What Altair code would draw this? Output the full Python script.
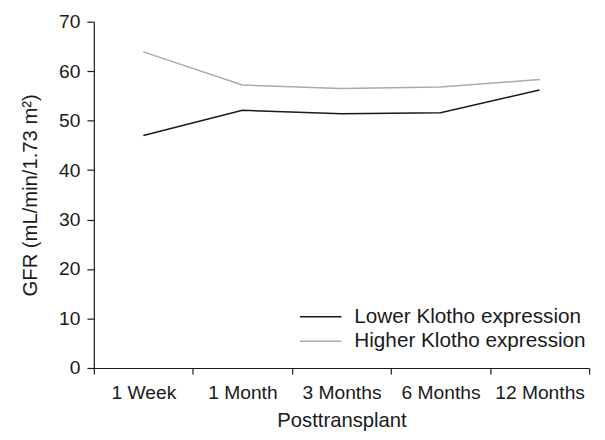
import altair as alt
import pandas as pd

categories = ["1 Week", "1 Month", "3 Months", "6 Months", "12 Months"]
lower = [47.0, 52.1, 51.4, 51.6, 56.2]
higher = [63.9, 57.2, 56.5, 56.8, 58.3]
series = ["Lower Klotho expression", "Higher Klotho expression"]
colors = ["#1a1a1a", "#ababab"]

rows = []
for i, c in enumerate(categories):
    rows.append({"pos": i + 0.5, "cat": c, "value": lower[i], "series": series[0]})
    rows.append({"pos": i + 0.5, "cat": c, "value": higher[i], "series": series[1]})
df = pd.DataFrame(rows)

label_arr = "[" + ",".join("'" + c + "'" for c in categories) + "]"
x_vals = [i * 0.5 for i in range(2 * len(categories) + 1)]

FONT = "Liberation Sans"

chart = alt.Chart(df).mark_line(strokeWidth=1.5).encode(
    x=alt.X(
        "pos:Q",
        scale=alt.Scale(domain=[0, len(categories)], nice=False, zero=False),
        axis=alt.Axis(
            values=x_vals,
            labelExpr="datum.value % 1 == 0 ? '' : " + label_arr + "[floor(datum.value)]",
            tickOpacity=alt.expr("datum.value % 1 == 0 ? 1 : 0"),
            grid=False,
            title="Posttransplant",
            tickSize=6,
            labelPadding=10,
            titlePadding=9,
            labelFlush=False,
            labelOverlap=False,
        ),
    ),
    y=alt.Y(
        "value:Q",
        scale=alt.Scale(domain=[0, 70], nice=False),
        axis=alt.Axis(
            values=list(range(0, 71, 10)),
            grid=False,
            title="GFR (mL/min/1.73 m²)",
            tickSize=7,
            labelPadding=7,
            titlePadding=18,
        ),
    ),
    color=alt.Color(
        "series:N",
        scale=alt.Scale(domain=series, range=colors),
        sort=series,
        legend=alt.Legend(
            title=None,
            orient="none",
            legendX=208,
            legendY=287,
            symbolType="stroke",
            symbolSize=1764,
            symbolStrokeWidth=1.5,
            labelFontSize=21,
            labelFont=FONT,
            labelColor="#1a1a1a",
            labelOffset=12,
            labelLimit=0,
            clipHeight=24,
            rowPadding=1,
            padding=0,
        ),
    ),
    detail="series:N",
).properties(
    width=502,
    height=351,
    autosize=alt.AutoSizeParams(type="none"),
    padding={"left": 87, "top": 11, "right": 8, "bottom": 62},
).configure_view(
    stroke=None
).configure_axis(
    domainColor="#1a1a1a",
    tickColor="#1a1a1a",
    labelColor="#1a1a1a",
    titleColor="#1a1a1a",
    labelFont=FONT,
    titleFont=FONT,
    labelFontSize=19.5,
    titleFontSize=20.5,
    titleFontWeight="normal",
    domainWidth=1.2,
    tickWidth=1.2,
)

chart.save("out.html", embed_options={"renderer": "svg", "actions": False})
